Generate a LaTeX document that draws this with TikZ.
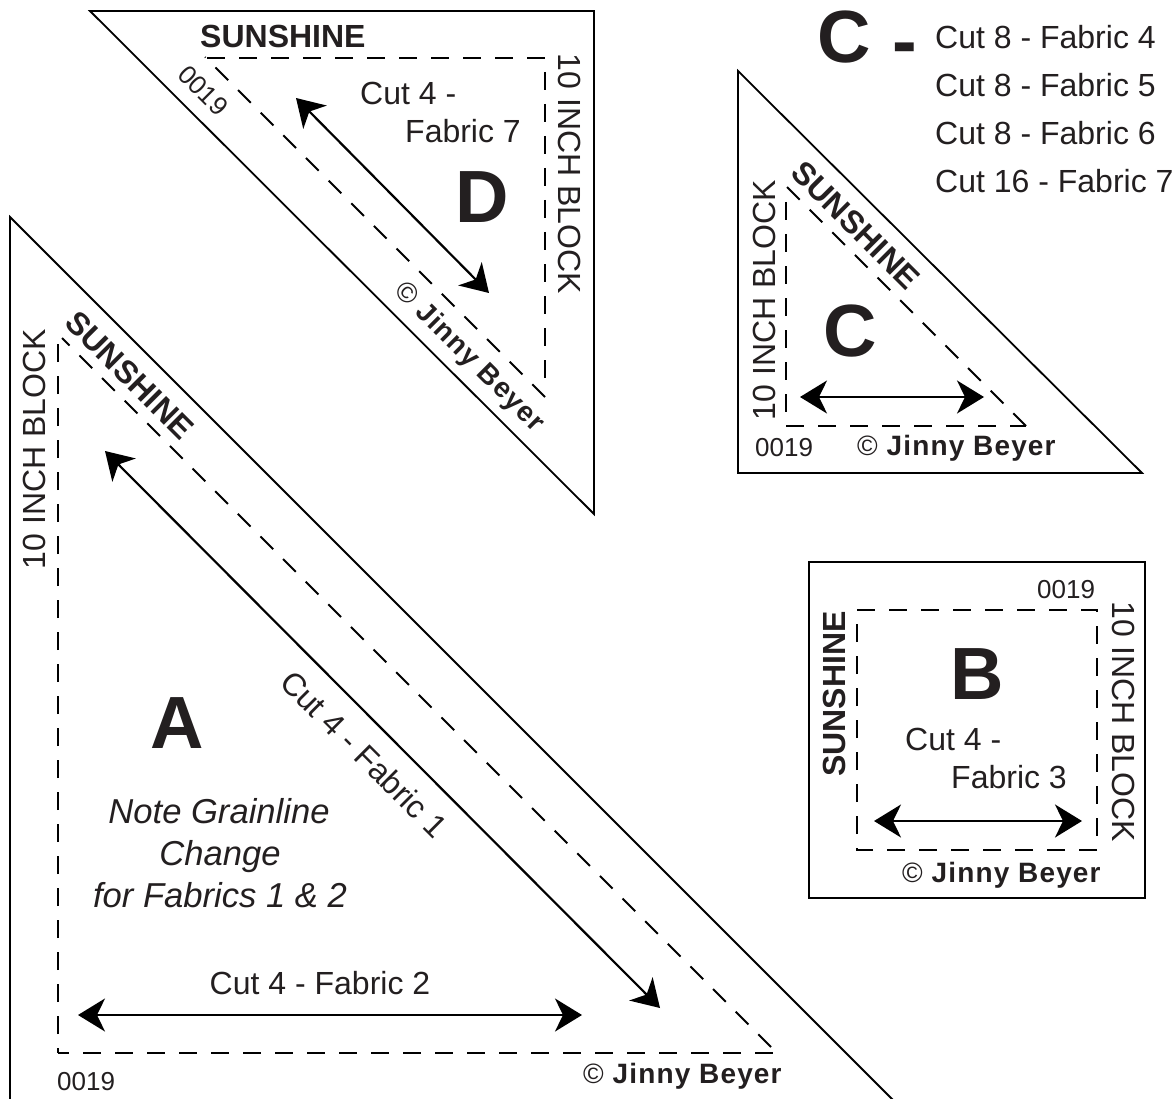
\documentclass[tikz,border=0pt]{standalone}
\usepackage{fontspec}
\setmainfont{Liberation Sans}
\usetikzlibrary{arrows.meta}
\definecolor{ink}{HTML}{231F20}
\newcommand{\jinny}{{\addfontfeature{LetterSpace=4}{\mdseries\textcopyright}\ Jinny Beyer}}
\tikzset{%
  outline/.style  = {draw=black, line width=1.8pt, line join=miter},%
  seam/.style     = {draw=black, line width=1.8pt, dash pattern=on 18pt off 14pt},%
  grain/.style    = {draw=black, line width=2.2pt, {Stealth[length=27pt,width=33pt,inset=8pt]}-{Stealth[length=27pt,width=33pt,inset=8pt]}},%
  txt/.style      = {text=ink, inner sep=0pt, anchor=base, font=\fontsize{32}{38}\selectfont},%
  brand/.style    = {txt, font=\fontsize{32}{38}\selectfont\bfseries},%
  number/.style   = {txt, font=\fontsize{26}{30}\selectfont},%
  maker/.style    = {txt, font=\fontsize{28}{32}\selectfont\bfseries},%
  piece/.style    = {txt, font=\fontsize{74}{80}\selectfont\bfseries},%
  note/.style     = {txt, font=\fontsize{34.6}{40}\selectfont\itshape}%
}
\begin{document}
\begin{tikzpicture}[x=1pt,y=-1pt]
	\useasboundingbox (0,0) rectangle (1174,1099);
	\clip (0,0) rectangle (1174,1099);
	% piece A
	\draw [outline] (10,1110) -- (10,217) -- (903,1110);
	\draw [seam,dash phase=13pt] (58,1053) -- (58,338);
	\draw [seam,dash phase=7pt] (58,1053) -- (773,1053);
	\draw [seam] (771,1047) -- (62,338);
	\coordinate (a1) at (105,451);
	\coordinate (a2) at (660,1008);
	\coordinate (a3) at (78,1015);
	\coordinate (a4) at (582,1015);
	\draw [grain] (a1) -- (a2);
	\draw [grain] (a3) -- (a4);
	\node [brand,rotate=-45] (aname) at (122,383) {SUNSHINE};
	\node [txt,rotate=90] (asize) at (45,449) {10 INCH BLOCK};
	\node [piece] (aletter) at (177,748) {A};
	\node [txt,rotate=-45] (acut1) at (356,762) {Cut 4 - Fabric 1};
	\node [txt] (acut2) at (320,994) {Cut 4 - Fabric 2};
	\node [note] (anote1) at (219,823) {Note Grainline};
	\node [note] (anote2) at (220,865) {Change};
	\node [note] (anote3) at (220,907) {for Fabrics 1 \& 2};
	\node [number,anchor=base west] (anum) at (57,1090) {0019};
	\node [maker,anchor=base west] (amaker) at (583,1083) {\jinny};
	% piece D
	\draw [outline] (90,11) -- (594,11) -- (594,514) -- cycle;
	\draw [seam] (207,58) -- (545,58) -- (545,380);
	\draw [seam] (545,397) -- (205,57);
	\coordinate (d1) at (296,98);
	\coordinate (d2) at (489,293);
	\draw [grain] (d1) -- (d2);
	\node [brand,anchor=base west] (dname) at (200,48) {SUNSHINE};
	\node [txt,rotate=-90] (dsize) at (558,174) {10 INCH BLOCK};
	\node [piece] (dletter) at (482,223) {D};
	\node [txt,anchor=base west] (dcut1) at (360,105) {Cut 4 -};
	\node [txt,anchor=base west] (dcut2) at (405,143) {Fabric 7};
	\node [number,rotate=-45] (dnum) at (197,97) {0019};
	\node [maker,rotate=-45] (dmaker) at (464,363) {\jinny};
	% piece C
	\draw [outline] (738,71) -- (738,473) -- (1142,473) -- cycle;
	\draw [seam] (786,202) -- (786,426) -- (1026,426);
	\draw [seam] (1026,426) -- (786,186);
	\coordinate (c1) at (800,397);
	\coordinate (c2) at (984,397);
	\draw [grain] (c1) -- (c2);
	\node [brand,rotate=-45] (cname) at (848,233) {SUNSHINE};
	\node [txt,rotate=90] (csize) at (775,300) {10 INCH BLOCK};
	\node [piece] (cletter) at (850,356) {C};
	\node [number,anchor=base west] (cnum) at (755,456) {0019};
	\node [maker,anchor=base west] (cmaker) at (857,455) {\jinny};
	% piece C list
	\node [piece,anchor=base west] (chead) at (817,63) {C};
	\node [piece,anchor=base west] (chyph) at (892,66.5) {-};
	\node [txt,anchor=base west] (clist1) at (935,49) {Cut 8 - Fabric 4};
	\node [txt,anchor=base west] (clist2) at (935,97) {Cut 8 - Fabric 5};
	\node [txt,anchor=base west] (clist3) at (935,145) {Cut 8 - Fabric 6};
	\node [txt,anchor=base west] (clist4) at (935,193) {Cut 16 - Fabric 7};
	% piece B
	\draw [outline] (809,562) rectangle (1145,898);
	\draw [seam] (857,610) -- (1097,610) -- (1097,850) -- (857,850) -- cycle;
	\coordinate (b1) at (874,821);
	\coordinate (b2) at (1082,821);
	\draw [grain] (b1) -- (b2);
	\node [brand,rotate=90] (bname) at (845,694) {SUNSHINE};
	\node [txt,rotate=-90] (bsize) at (1112,722) {10 INCH BLOCK};
	\node [piece] (bletter) at (977,699) {B};
	\node [number,anchor=base west] (bnum) at (1037,598) {0019};
	\node [txt,anchor=base west] (bcut1) at (905,750) {Cut 4 -};
	\node [txt,anchor=base west] (bcut2) at (951,788) {Fabric 3};
	\node [maker,anchor=base west] (bmaker) at (902,882) {\jinny};
\end{tikzpicture}
\end{document}
